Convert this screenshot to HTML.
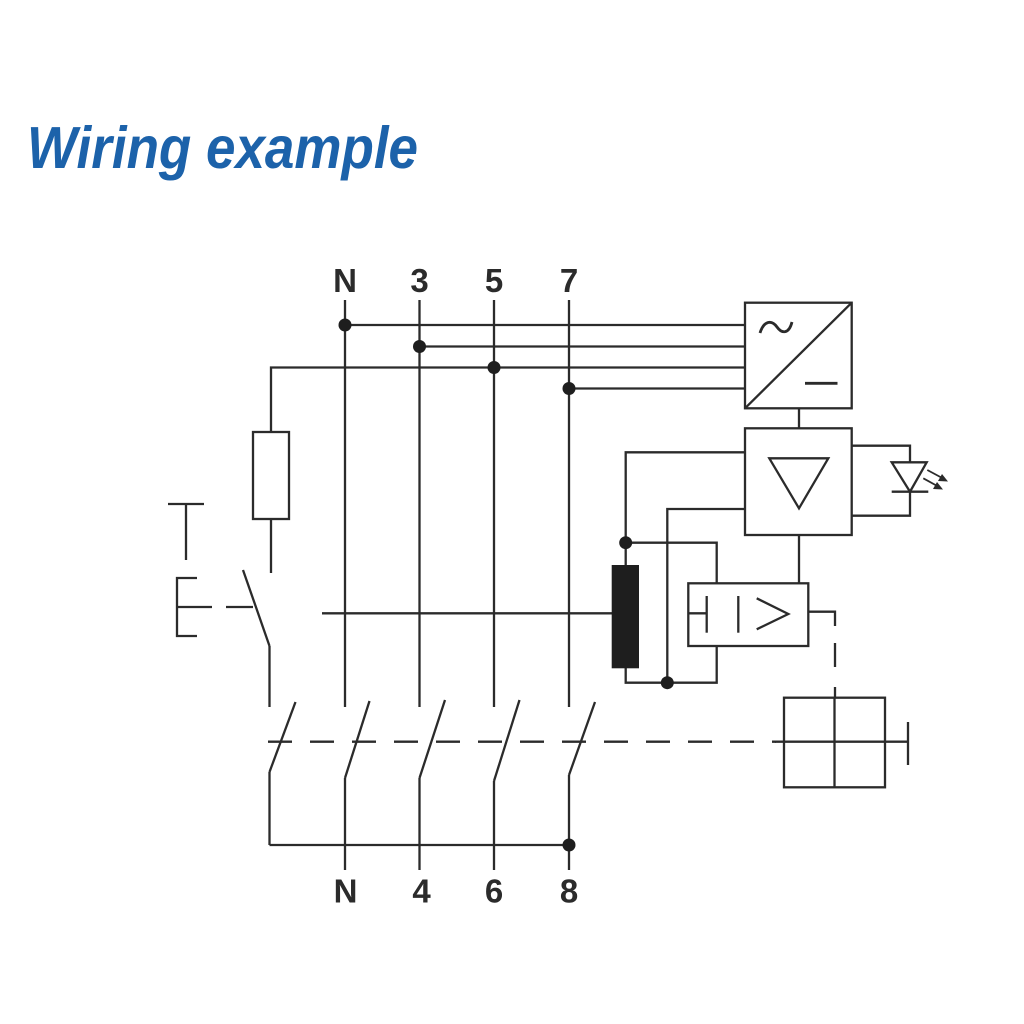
<!DOCTYPE html>
<html>
<head>
<meta charset="utf-8">
<style>
  html,body{margin:0;padding:0;background:#fff;}
  svg{display:block;}
</style>
</head>
<body>
<svg width="1024" height="1024" viewBox="0 0 1024 1024" xmlns="http://www.w3.org/2000/svg">
  <rect x="0" y="0" width="1024" height="1024" fill="#ffffff"/>
  <!-- Title -->
  <text x="27" y="168" font-family="Liberation Sans, sans-serif" font-weight="bold" font-style="italic" font-size="59" fill="#1c62aa" textLength="391" lengthAdjust="spacingAndGlyphs">Wiring example</text>

  <g fill="none" stroke="#2b2b2b" stroke-width="2.3" stroke-linecap="butt">
    <!-- Main verticals upper -->
    <line x1="345" y1="300" x2="345" y2="707"/>
    <line x1="419.5" y1="300" x2="419.5" y2="707"/>
    <line x1="494" y1="300" x2="494" y2="707"/>
    <line x1="569" y1="300" x2="569" y2="707"/>

    <!-- bus lines to converter -->
    <line x1="345" y1="325" x2="745" y2="325"/>
    <line x1="419.5" y1="346.5" x2="745" y2="346.5"/>
    <polyline points="271,432 271,367.5 745,367.5"/>
    <line x1="569" y1="388.5" x2="745" y2="388.5"/>

    <!-- resistor -->
    <rect x="253" y="432" width="36" height="87"/>
    <line x1="271" y1="519" x2="271" y2="573"/>

    <!-- test button -->
    <line x1="168" y1="504" x2="204" y2="504"/>
    <line x1="186" y1="504" x2="186" y2="560"/>
    <polyline points="197,578 177,578 177,636 197,636"/>
    <line x1="177" y1="607" x2="212" y2="607"/>
    <line x1="226" y1="607" x2="253" y2="607"/>
    <line x1="243" y1="570" x2="269.5" y2="646"/>
    <line x1="269.5" y1="646" x2="269.5" y2="707"/>

    <!-- line through toroid -->
    <line x1="322" y1="613.3" x2="612" y2="613.3"/>

    <!-- contacts -->
    <line x1="269.5" y1="772" x2="295.5" y2="702"/>
    <line x1="345" y1="778" x2="369.5" y2="701"/>
    <line x1="419.5" y1="778" x2="445" y2="700"/>
    <line x1="494" y1="781" x2="519.5" y2="700"/>
    <line x1="569" y1="775" x2="595" y2="702"/>

    <!-- lower verticals -->
    <line x1="269.5" y1="772" x2="269.5" y2="845"/>
    <line x1="345" y1="778" x2="345" y2="870"/>
    <line x1="419.5" y1="778" x2="419.5" y2="870"/>
    <line x1="494" y1="781" x2="494" y2="870"/>
    <line x1="569" y1="775" x2="569" y2="870"/>
    <line x1="269.5" y1="845" x2="569" y2="845"/>

    <!-- dashed mechanical link -->
    <line x1="268" y1="741.7" x2="776" y2="741.7" stroke-dasharray="24 18"/>
    <line x1="775" y1="741.7" x2="908" y2="741.7"/>
    <line x1="908" y1="722" x2="908" y2="765"/>

    <!-- trip box -->
    <rect x="784" y="697.7" width="101" height="89.6"/>
    <line x1="834.5" y1="697.7" x2="834.5" y2="787.3"/>

    <!-- dashed link from relay -->
    <polyline points="808,611.7 835,611.7 835,626" />
    <line x1="835" y1="643" x2="835" y2="667"/>
    <line x1="835" y1="687" x2="835" y2="698"/>

    <!-- converter box -->
    <rect x="745" y="302.7" width="106.7" height="105.6"/>
    <line x1="745" y1="408.3" x2="851.7" y2="302.7"/>
    <line x1="805" y1="383.3" x2="837.5" y2="383.3" stroke-width="2.8"/>
    <path d="M760,333 C764,320 772,320 777,327 C782,334 789,334 792,322" stroke-width="2.8"/>

    <!-- link -->
    <line x1="799" y1="408.3" x2="799" y2="428.3"/>

    <!-- amplifier box -->
    <rect x="745" y="428.3" width="106.7" height="106.7"/>
    <polygon points="769.3,458.3 828.3,458.3 799,508.3"/>

    <!-- left connections from amp -->
    <polyline points="745,452.3 625.7,452.3 625.7,565"/>
    <polyline points="745,509 667.3,509 667.3,682.7"/>

    <!-- toroid loops -->
    <polyline points="625.7,542.7 716.7,542.7 716.7,583.3"/>
    <polyline points="625.7,668 625.7,682.7 716.7,682.7 716.7,646"/>

    <!-- amp to relay -->
    <line x1="799" y1="535" x2="799" y2="583.3"/>

    <!-- relay box -->
    <rect x="688.3" y="583.3" width="120" height="62.7"/>
    <line x1="688.3" y1="613.3" x2="706.7" y2="613.3"/>
    <line x1="706.7" y1="596" x2="706.7" y2="632.7"/>
    <line x1="738.3" y1="596" x2="738.3" y2="632.7"/>
    <polyline points="756.7,598.3 788.3,614 756.7,629.3"/>

    <!-- LED -->
    <polyline points="851.7,445.7 910,445.7 910,462.3"/>
    <polyline points="851.7,515.7 910,515.7 910,491.7"/>
    <polygon points="891.7,462.3 926.7,462.3 910,491.7"/>
    <line x1="891.7" y1="491.7" x2="928.3" y2="491.7"/>
    <line x1="927.3" y1="470" x2="945" y2="479.5" stroke-width="1.8"/>
    <line x1="923.3" y1="478.3" x2="940" y2="487.5" stroke-width="1.8"/>
  </g>

  <!-- LED arrowheads -->
  <polygon points="948,481.5 938,481 942,474" fill="#2b2b2b"/>
  <polygon points="943,489.5 933,489 937,482" fill="#2b2b2b"/>

  <!-- toroid core -->
  <rect x="611.7" y="565" width="27.3" height="103.3" fill="#1e1e1e"/>

  <!-- junction dots -->
  <g fill="#1e1e1e">
    <circle cx="345" cy="325" r="6.5"/>
    <circle cx="419.5" cy="346.5" r="6.5"/>
    <circle cx="494" cy="367.5" r="6.5"/>
    <circle cx="569" cy="388.5" r="6.5"/>
    <circle cx="625.7" cy="542.7" r="6.5"/>
    <circle cx="667.3" cy="682.7" r="6.5"/>
    <circle cx="569" cy="845" r="6.5"/>
  </g>

  <!-- terminal labels -->
  <g font-family="Liberation Sans, sans-serif" font-weight="bold" font-size="33" fill="#2b2b2b" text-anchor="middle">
    <text x="345" y="292">N</text>
    <text x="419.5" y="292">3</text>
    <text x="494" y="292">5</text>
    <text x="569" y="292">7</text>
    <text x="345.5" y="902.5">N</text>
    <text x="421.5" y="902.5">4</text>
    <text x="494" y="902.5">6</text>
    <text x="569" y="902.5">8</text>
  </g>
</svg>
</body>
</html>
